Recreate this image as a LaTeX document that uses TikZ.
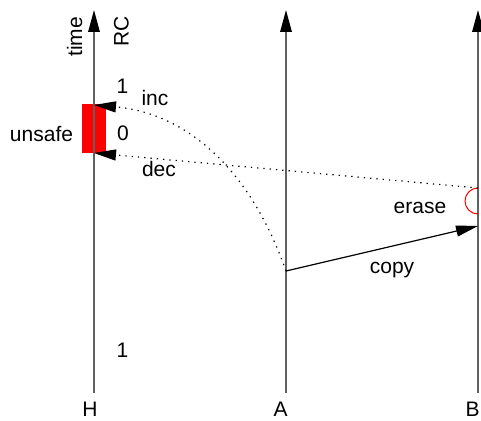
\documentclass[tikz,border=0pt]{standalone}
\usepackage{fontspec}
\setmainfont{Liberation Sans}
\usetikzlibrary{arrows.meta}
\begin{document}
\begin{tikzpicture}[x=1pt,y=-1pt,
  lifeline/.style={draw=black!62, line width=1.6pt, -{Triangle[length=22pt,width=11.5pt,color=black]}},
  msg/.style={draw=black, line width=1.2pt, -{Triangle[length=22pt,width=11pt]}},
  dotmsg/.style={draw=black, line width=1.2pt, dash pattern=on 1.3pt off 5pt, -{Triangle[length=22pt,width=11pt]}},
  lbl/.style={font=\fontsize{21}{24}\selectfont, inner sep=0pt, anchor=base},
]
\useasboundingbox (0,0) rectangle (481,420);
% coordinates
\coordinate (Hb) at (94,393);  \coordinate (Ht) at (94,10);
\coordinate (Ab) at (286,393); \coordinate (At) at (286,10);
\coordinate (Bb) at (478,393); \coordinate (Bt) at (478,10);
\coordinate (Hinc) at (94,105);
\coordinate (Hdec) at (94,153);
\coordinate (Acopy) at (286,271);
\coordinate (Bcopy) at (478,226);
\coordinate (Berase) at (478,188);
% unsafe region
\fill[red] (82,104) rectangle (106,153);
% lifelines
\draw[lifeline] (Hb) -- (Ht);
\draw[lifeline] (Ab) -- (At);
\draw[lifeline] (Bb) -- (Bt);
% erase mark
\draw[red, line width=1pt] (Berase) arc[start angle=270, end angle=90, radius=13];
% messages
\draw[msg] (Acopy) -- (Bcopy);
\draw[dotmsg] (Acopy) .. controls (245,155) and (175,112) .. (Hinc);
\draw[dotmsg] (Berase) -- (Hdec);
% labels
\node[lbl, rotate=90, anchor=center] (tTime) at (74.5,37) {time};
\node[lbl, rotate=90, anchor=center] (tRC) at (121.5,31) {RC};
\node[lbl] (tOneA) at (122.5,93) {1};
\node[lbl] (tInc) at (155,105) {inc};
\node[lbl] (tZero) at (123,140) {0};
\node[lbl] (tUnsafe) at (41.5,141) {unsafe};
\node[lbl] (tDec) at (159,176) {dec};
\node[lbl] (tErase) at (420,213) {erase};
\node[lbl] (tCopy) at (392,273) {copy};
\node[lbl] (tOneB) at (122.5,357) {1};
\node[lbl] (tH) at (90,416) {H};
\node[lbl] (tA) at (280.7,416) {A};
\node[lbl] (tB) at (472.5,416) {B};
\end{tikzpicture}
\end{document}
